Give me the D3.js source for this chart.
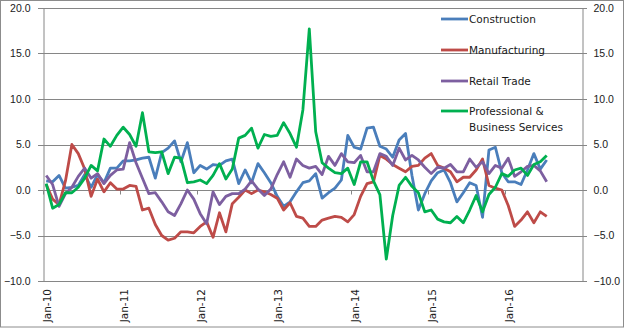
<!DOCTYPE html>
<html>
<head>
<meta charset="utf-8">
<script src="https://cdn.jsdelivr.net/npm/d3@7"></script>
<style>
  body { margin: 0; background: #fff; }
  svg { display: block; font-family: "DejaVu Sans", sans-serif; }
  .tick-label { font-size: 10.5px; fill: #1a1a1a; }
  .legend-label { font-size: 10.5px; fill: #1a1a1a; }
</style>
</head>
<body>
<svg id="chart" width="633" height="336"></svg>
<script>
// Monthly values, Jan-10 .. Jul-16 (axis runs to Dec-16)
const seriesNames = ['Construction', 'Manufacturing', 'Retail Trade', 'Professional & Business Services'];
const seriesColors = ['#4a7ebb', '#be4b48', '#7d5fa0', '#00b050'];

const construction = [1.0, 0.9, 1.6, 0.2, 0.3, 0.5, 1.7, 0.3, 1.7, 0.8, 2.4, 2.4,
  3.2, 3.2, 3.3, 3.5, 3.6, 1.3, 4.1, 4.6, 5.4, 3.1, 5.2, 1.9,
  2.7, 2.3, 2.8, 2.7, 3.2, 3.4, 0.7, 2.2, 0.8, 2.9, 1.9, 0.8,
  -0.7, -1.8, -1.3, -0.2, 0.8, 1.0, 1.8, -0.9, -0.3, 0.2, 1.1, 6.0,
  4.7, 4.5, 6.8, 6.9, 4.8, 4.5, 3.6, 5.5, 6.2, 1.6, -2.2, -0.4,
  1.0, 1.9, 2.2, 0.8, -1.3, -0.3, 0.8, 0.5, -3.0, 4.4, 4.7, 1.9,
  0.9, 0.9, 0.6, 2.2, 4.0, 2.3, 3.3];

const manufacturing = [0.6, -1.0, -1.6, 1.0, 5.0, 4.0, 2.3, -0.7, 1.2, -0.2, 0.8, 0.1,
  0.1, 0.5, 0.4, -2.2, -2.0, -3.8, -5.0, -5.5, -5.3, -4.6, -4.6, -4.7,
  -4.0, -3.5, -5.2, -2.5, -4.6, -1.5, -0.8, 0.0, -0.4, 0.0, -0.2, -0.5,
  -0.9, -2.2, -1.4, -2.9, -3.1, -4.0, -4.0, -3.3, -3.1, -2.9, -3.0, -3.5,
  -2.7, -0.7, 0.7, 0.9, 3.8, 3.4, 2.8, 2.4, 2.0, 2.6, 2.7, 3.5,
  4.0, 2.7, 2.4, 2.0, 0.9, 1.4, 1.4, 2.2, 3.4, 0.5, 0.2, 0.0,
  -1.7, -4.0, -3.3, -2.4, -3.6, -2.4, -2.9];

const retailTrade = [1.6, 0.6, -1.8, -0.4, 0.3, 1.5, 2.4, 1.3, 1.8, 0.7, 1.6, 2.2,
  2.3, 5.2, 3.0, 1.3, -0.4, -0.3, -1.3, -2.4, -2.8, -1.5, 0.0, -1.0,
  -2.6, -3.7, -0.2, -1.6, -0.7, -0.4, -0.4, 0.1, 1.0, 0.1, -0.6, 0.1,
  1.7, 3.1, 1.4, 3.4, 2.7, 2.4, 2.6, 1.7, 3.7, 2.7, 4.0, 3.1,
  3.0, 3.8, 2.0, 2.0, 4.0, 3.7, 2.7, 4.6, 3.3, 3.8, 3.3, 2.5,
  1.8, 2.5, 2.4, 2.8, 2.0, 2.0, 3.4, 2.5, 3.1, 1.8, 2.7, 2.4,
  3.5, 1.5, 2.0, 2.6, 2.7, 2.1, 0.9];

const professional = [0.7, -2.0, -1.6, -0.3, -0.3, 0.3, 1.3, 2.7, 2.1, 5.6, 4.8, 6.0,
  6.9, 6.1, 4.8, 8.5, 4.2, 4.1, 4.2, 1.8, 3.6, 3.5, 0.8, 0.9,
  1.1, 0.7, 1.6, 2.9, 1.2, 2.3, 5.7, 6.0, 6.8, 4.6, 6.1, 5.9,
  6.0, 7.4, 6.2, 4.7, 8.8, 17.7, 6.4, 3.0, 2.4, 1.9, 1.8, 2.4,
  0.6, 3.1, 3.1, 1.0, -0.5, -7.6, -2.8, 0.5, 1.4, 0.4, -0.3, -2.4,
  -2.2, -3.2, -3.5, -3.6, -2.9, -3.6, -2.2, -0.6, -2.4, -0.5, 0.3, 1.8,
  1.5, 2.2, 2.4, 1.6, 2.8, 3.1, 3.8];

const yTicks = [-10, -5, 0, 5, 10, 15, 20];
const years = ['10', '11', '12', '13', '14', '15', '16'];
const monthNames = ['Jan', 'Feb', 'Mar', 'Apr', 'May', 'Jun', 'Jul', 'Aug', 'Sep', 'Oct', 'Nov', 'Dec'];

class LineChart {
  constructor(_config) {
    this.config = {
      parentElement: _config.parentElement,
      margin: { top: 8, right: 51, bottom: 55, left: 43 }
    };
    this.initVis();
  }

  initVis() {
    let vis = this;
    vis.svg = d3.select(vis.config.parentElement);
    vis.width = 633 - vis.config.margin.left - vis.config.margin.right;
    vis.height = 336 - vis.config.margin.top - vis.config.margin.bottom;

    // outer chart border
    vis.svg.append('rect')
      .attr('x', 0.5).attr('y', 0.5)
      .attr('width', 623).attr('height', 326.5)
      .attr('fill', '#fff')
      .attr('stroke', '#8c8c8c');

    vis.chart = vis.svg.append('g')
      .attr('transform', `translate(${vis.config.margin.left},${vis.config.margin.top})`);

    vis.months = [];
    years.forEach(y => monthNames.forEach(m => vis.months.push(`${m}-${y}`)));

    vis.xScale = d3.scaleBand().domain(vis.months).range([0, vis.width]);
    vis.yScale = d3.scaleLinear().domain([-10, 20]).range([vis.height, 0]);

    vis.series = [construction, manufacturing, retailTrade, professional];
  }

  renderVis() {
    let vis = this;
    const grey = '#868686';

    // gridlines
    vis.chart.append('g')
      .selectAll('line')
      .data(yTicks)
      .join('line')
        .attr('x1', -5).attr('x2', vis.width + 5)
        .attr('y1', d => Math.round(vis.yScale(d)) + 0.5)
        .attr('y2', d => Math.round(vis.yScale(d)) + 0.5)
        .attr('stroke', grey);

    // left and right value axes
    const yLeft = d3.axisLeft(vis.yScale).tickValues(yTicks).tickFormat(d3.format('.1f')).tickSize(0).tickPadding(13);
    const yRight = d3.axisRight(vis.yScale).tickValues(yTicks).tickFormat(d3.format('.1f')).tickSize(0).tickPadding(11);

    const gl = vis.chart.append('g').attr('transform', 'translate(0.5,0)').call(yLeft);
    const gr = vis.chart.append('g').attr('transform', `translate(${vis.width + 0.5},0)`).call(yRight);
    [gl, gr].forEach(g => {
      g.select('.domain').attr('stroke', grey);
      g.selectAll('text').attr('class', 'tick-label').attr('fill', '#1a1a1a').style('font-size', '10.5px');
    });

    // category axis crossing at 0, labels low
    const y0 = Math.round(vis.yScale(0)) + 0.5;
    const yearStarts = vis.months.filter(m => m.startsWith('Jan'));
    vis.chart.append('g')
      .selectAll('line')
      .data(yearStarts)
      .join('line')
        .attr('x1', d => Math.round(vis.xScale(d)) + 0.5)
        .attr('x2', d => Math.round(vis.xScale(d)) + 0.5)
        .attr('y1', y0).attr('y2', y0 + 4)
        .attr('stroke', grey);

    vis.chart.append('g')
      .selectAll('text')
      .data(yearStarts)
      .join('text')
        .attr('class', 'tick-label')
        .attr('text-anchor', 'end')
        .attr('dominant-baseline', 'central')
        .attr('transform', d => `translate(${vis.xScale(d) + vis.xScale.bandwidth() / 2 + 0.5},${vis.height + 8}) rotate(-90)`)
        .text(d => d);

    // series lines
    const line = d3.line()
      .x((d, i) => vis.xScale(vis.months[i]) + vis.xScale.bandwidth() / 2)
      .y(d => vis.yScale(d));

    vis.chart.append('g')
      .selectAll('path')
      .data(vis.series)
      .join('path')
        .attr('fill', 'none')
        .attr('stroke', (d, i) => seriesColors[i])
        .attr('stroke-width', 2.8)
        .attr('stroke-linejoin', 'round')
        .attr('d', line);

    // legend
    const legendRows = [19, 50, 81, 111];
    const legend = vis.svg.append('g');
    seriesNames.forEach((name, i) => {
      legend.append('line')
        .attr('x1', 441).attr('x2', 468)
        .attr('y1', legendRows[i]).attr('y2', legendRows[i])
        .attr('stroke', seriesColors[i])
        .attr('stroke-width', 2.8);
      const t = legend.append('text')
        .attr('class', 'legend-label')
        .attr('x', 469)
        .attr('y', legendRows[i])
        .attr('dy', '0.35em');
      if (name.includes('&')) {
        t.append('tspan').attr('x', 469).text('Professional &');
        t.append('tspan').attr('x', 469).attr('dy', 16).text('Business Services');
      } else {
        t.text(name);
      }
    });
  }
}

const chart = new LineChart({ parentElement: '#chart' });
chart.renderVis();
</script>
</body>
</html>
